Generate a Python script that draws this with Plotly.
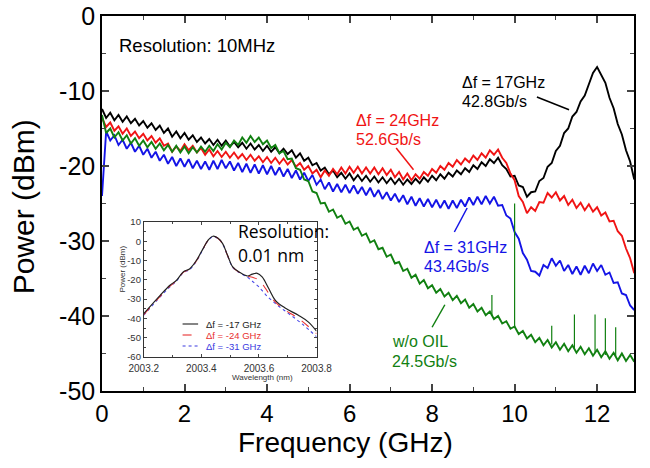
import plotly.graph_objects as go

# ---------------- main spectra (Frequency in GHz, Power in dBm) ----------------
freq = [round(i * 0.1, 1) for i in range(130)]

black_17 = [
    -12.4, -13.6, -12.9, -13.9, -13.2, -14.1, -13.4, -14.3, -13.7, -14.6,
    -14.0, -14.9, -14.3, -15.2, -14.6, -15.6, -15.0, -16.1, -15.4, -16.3,
    -15.6, -16.5, -15.9, -16.8, -16.2, -17.0, -16.4, -17.2, -16.5, -17.3,
    -16.6, -17.4, -16.8, -17.5, -16.9, -17.7, -17.0, -17.8, -17.2, -18.0,
    -17.3, -18.1, -17.5, -18.3, -17.7, -18.4, -17.9, -18.9, -18.3, -19.3,
    -18.9, -19.9, -19.6, -20.6, -20.2, -21.1, -20.6, -21.5, -20.9, -21.7,
    -21.0, -21.9, -21.2, -22.0, -21.3, -22.1, -21.4, -22.2, -21.5, -22.3,
    -21.6, -22.4, -21.7, -22.5, -21.8, -22.4, -21.7, -22.3, -21.5, -22.1,
    -21.3, -21.9, -21.1, -21.7, -20.9, -21.4, -20.6, -21.1, -20.3, -20.8,
    -19.9, -20.4, -19.5, -20.0, -19.1, -19.6, -18.9, -19.9, -20.4, -21.4,
    -21.3, -22.6, -22.8, -24.1, -23.5, -23.4, -22.0, -21.6, -20.1, -19.6,
    -18.0, -17.3, -15.6, -15.0, -13.4, -12.8, -11.4, -10.6, -9.1, -7.6,
    -6.8, -7.9, -8.9, -10.9, -12.3, -14.4, -15.8, -17.9, -19.4, -21.8,
]

red_24 = [
    -13.6, -14.8, -14.2, -15.3, -14.7, -15.7, -15.0, -16.0, -15.4, -16.3,
    -15.7, -16.6, -16.0, -16.9, -16.3, -17.3, -17.0, -18.1, -17.4, -18.0,
    -17.1, -17.9, -17.3, -18.2, -17.6, -18.5, -17.8, -18.7, -18.0, -18.8,
    -18.1, -18.9, -18.2, -19.0, -18.4, -19.2, -18.5, -19.3, -18.7, -19.5,
    -18.8, -19.6, -18.9, -19.7, -19.0, -19.8, -19.2, -20.1, -19.6, -20.5,
    -20.0, -21.0, -20.5, -21.5, -20.6, -21.3, -20.4, -21.1, -20.2, -21.0,
    -20.1, -20.9, -20.1, -21.0, -20.2, -21.0, -20.2, -21.1, -20.3, -21.2,
    -20.5, -21.5, -20.8, -21.8, -21.0, -21.9, -21.1, -21.7, -20.8, -21.3,
    -20.4, -20.9, -20.0, -20.5, -19.6, -20.1, -19.2, -19.8, -19.0, -19.5,
    -18.6, -19.2, -18.3, -18.9, -17.9, -18.5, -17.8, -18.9, -19.6, -21.0,
    -21.9, -24.0, -24.8, -26.3, -25.5, -26.0, -24.8, -24.9, -23.6, -24.2,
    -23.5, -24.6, -24.0, -25.2, -24.5, -25.6, -24.9, -25.9, -25.1, -26.1,
    -25.5, -26.6, -26.2, -27.4, -27.3, -28.7, -29.3, -31.0, -32.3, -34.3,
]

blue_31 = [
    -24.0, -15.4, -16.6, -15.9, -17.2, -16.5, -17.7, -16.9, -18.1, -17.3,
    -18.5, -17.7, -18.9, -18.1, -19.3, -18.5, -19.7, -18.8, -20.0, -19.0,
    -20.1, -19.1, -20.3, -19.3, -20.4, -19.4, -20.5, -19.3, -20.4, -19.2,
    -20.3, -19.4, -20.6, -19.6, -20.8, -19.7, -20.9, -19.8, -21.0, -19.9,
    -21.1, -20.0, -21.2, -20.2, -21.4, -20.4, -21.6, -20.6, -21.8, -20.9,
    -22.0, -21.2, -22.5, -21.8, -23.1, -22.2, -23.4, -22.4, -23.5, -22.5,
    -23.6, -22.6, -23.7, -22.8, -23.9, -22.9, -24.1, -23.2, -24.4, -23.5,
    -24.6, -23.7, -24.8, -23.9, -25.1, -24.1, -25.3, -24.3, -25.4, -24.4,
    -25.5, -24.5, -25.6, -24.6, -25.7, -24.6, -25.6, -24.5, -25.4, -24.2,
    -25.2, -24.1, -25.1, -24.0, -25.0, -24.1, -25.3, -25.2, -26.6, -27.0,
    -28.8, -29.7, -31.6, -32.5, -34.0, -34.1, -34.6, -33.2, -33.6, -32.3,
    -33.3, -32.6, -34.0, -33.2, -34.4, -33.4, -34.5, -33.3, -34.3, -33.0,
    -34.0, -33.2, -34.5, -34.2, -35.6, -35.5, -37.0, -37.2, -38.6, -39.2,
]

green_nooil = [
    -13.2, -15.6, -15.0, -16.2, -15.5, -16.6, -15.9, -17.0, -16.3, -17.3,
    -16.6, -17.5, -16.8, -17.7, -17.0, -17.9, -17.2, -18.1, -17.3, -18.2,
    -17.4, -18.3, -17.5, -18.2, -17.4, -18.1, -17.3, -18.0, -17.1, -17.8,
    -16.9, -17.5, -16.6, -17.2, -16.2, -16.9, -16.0, -16.8, -16.2, -17.1,
    -16.6, -17.6, -17.2, -18.3, -18.0, -19.1, -19.0, -20.3, -20.5, -21.8,
    -22.0, -23.4, -23.6, -25.0, -24.9, -26.1, -25.8, -26.9, -26.6, -27.7,
    -27.4, -28.5, -28.2, -29.3, -29.0, -30.2, -29.9, -31.1, -30.9, -32.1,
    -31.8, -33.0, -32.8, -34.0, -33.7, -34.9, -34.5, -35.7, -35.2, -36.3,
    -35.9, -36.9, -36.4, -37.4, -36.9, -37.9, -37.3, -38.3, -37.8, -38.9,
    -38.4, -39.4, -38.9, -39.9, -39.4, -40.4, -40.0, -41.0, -40.7, -41.7,
    -41.4, -42.4, -42.0, -43.0, -42.5, -43.5, -42.9, -43.9, -43.2, -44.2,
    -43.5, -44.5, -43.7, -44.7, -43.9, -44.9, -44.1, -45.1, -44.3, -45.3,
    -44.5, -45.5, -44.7, -45.7, -44.9, -45.9, -45.0, -46.0, -45.2, -46.1,
]

# narrow spurious lines on the w/o OIL trace
spike_freq = [9.45, 10.0, 10.9, 11.45, 11.95, 12.2, 12.45]
spike_base = [-40.0, -41.6, -43.8, -44.4, -44.9, -45.2, -45.4]
spike_top = [-37.2, -25.0, -41.3, -39.8, -39.8, -40.3, -41.5]

y_ticks = [0, -10, -20, -30, -40, -50]
y_ticklabels = ["0", "-10", "-20", "-30", "-40", "-50"]

# ---------------- inset: optical spectra ----------------
wl_black = [2003.2, 2003.257, 2003.291, 2003.314, 2003.337, 2003.36, 2003.383, 2003.406,
            2003.423, 2003.44, 2003.457, 2003.474, 2003.491, 2003.509, 2003.531, 2003.56,
            2003.577, 2003.594, 2003.611, 2003.634, 2003.657, 2003.691, 2003.737, 2003.771, 2003.8]
opt_black = [-37.5, -28.0, -22.8, -20.2, -15.9, -14.2, -9.9, -3.8,
             0.5, 2.6, 1.7, -1.2, -7.3, -13.3, -15.9, -18.0,
             -17.0, -16.6, -18.5, -24.5, -30.6, -34.6, -38.4, -41.8, -46.6]
wl_red = [2003.2, 2003.257, 2003.291, 2003.314, 2003.337, 2003.36, 2003.383, 2003.406,
          2003.423, 2003.44, 2003.457, 2003.474, 2003.491, 2003.509, 2003.531, 2003.56,
          2003.577, 2003.6, 2003.623, 2003.646, 2003.68, 2003.737, 2003.8]
opt_red = [-38.0, -28.5, -23.3, -20.4, -16.1, -14.4, -10.1, -3.9,
           0.4, 2.5, 1.6, -1.3, -7.4, -13.4, -16.0, -18.1,
           -18.6, -20.2, -24.5, -29.7, -34.6, -40.0, -47.9]
wl_blue = [2003.2, 2003.257, 2003.291, 2003.314, 2003.337, 2003.36, 2003.383, 2003.406,
           2003.423, 2003.44, 2003.457, 2003.474, 2003.491, 2003.509, 2003.531, 2003.56,
           2003.577, 2003.6, 2003.623, 2003.657, 2003.703, 2003.749, 2003.8]
opt_blue = [-38.3, -28.8, -23.6, -20.6, -16.3, -14.6, -10.3, -4.1,
            0.3, 2.4, 1.5, -1.4, -7.5, -13.5, -16.2, -18.6,
            -20.7, -23.7, -27.6, -32.3, -37.5, -42.7, -49.5]

inset_xticks = [2003.2, 2003.4, 2003.6, 2003.8]
inset_yticks = [10, 0, -10, -20, -30, -40, -50, -60]
inset_yticklabels = ["10", "0", "-10", "-20", "-30", "-40", "-50", "-60"]
legend_labels = ["Δf = -17 GHz", "Δf = -24 GHz", "Δf = -31 GHz"]

BLACK = "#000000"
RED = "#f01414"
BLUE = "#1414e6"
GREEN = "#118011"

# plot-area geometry in pixels (for placing text in paper coordinates)
L, R, T, B = 102, 650, 16, 391


def px(xp):
    return (xp - L) / (R - L)


def py(yp):
    return (B - yp) / (B - T)


fig = go.Figure()

for ys, col in [(black_17, BLACK), (red_24, RED), (blue_31, BLUE), (green_nooil, GREEN)]:
    fig.add_trace(go.Scatter(x=freq, y=ys, mode="lines", line=dict(color=col, width=1.9),
                             showlegend=False, xaxis="x", yaxis="y"))

sx, sy = [], []
for f, b0, t0 in zip(spike_freq, spike_base, spike_top):
    sx += [f, f, None]
    sy += [b0, t0, None]
fig.add_trace(go.Scatter(x=sx, y=sy, mode="lines", line=dict(color=GREEN, width=1.2),
                         showlegend=False, xaxis="x", yaxis="y"))

fig.add_trace(go.Scatter(x=wl_blue, y=opt_blue, mode="lines", line=dict(color="#4a4ae8", width=1.1, dash="dot"),
                         line_shape="spline", showlegend=False, xaxis="x2", yaxis="y2"))
fig.add_trace(go.Scatter(x=wl_red, y=opt_red, mode="lines", line=dict(color="#e83030", width=1.1, dash="dash"),
                         line_shape="spline", showlegend=False, xaxis="x2", yaxis="y2"))
fig.add_trace(go.Scatter(x=wl_black, y=opt_black, mode="lines", line=dict(color="#222222", width=1.2),
                         line_shape="spline", showlegend=False, xaxis="x2", yaxis="y2"))

FONT = "Liberation Sans, Arial, sans-serif"

fig.update_layout(
    width=650, height=468,
    margin=dict(l=L, r=650 - R, t=T, b=468 - B, pad=0),
    paper_bgcolor="white", plot_bgcolor="white",
    font=dict(family=FONT, color="black"),
    xaxis=dict(range=[0, 12.894], tickvals=[0, 2, 4, 6, 8, 10, 12], ticks="inside", ticklen=7,
               tickwidth=1.5, showline=True, linewidth=1.5, linecolor="black", mirror="allticks",
               showgrid=False, zeroline=False, tickfont=dict(size=24, family=FONT),
               minor=dict(dtick=1, ticks="inside", ticklen=4, tickwidth=1.2, showgrid=False)),
    yaxis=dict(range=[-50, 0], tickvals=y_ticks, ticktext=y_ticklabels, ticks="inside", ticklen=7,
               tickwidth=1.5, showline=True, linewidth=1.5, linecolor="black", mirror="allticks",
               showgrid=False, zeroline=False, tickfont=dict(size=25, family=FONT),
               minor=dict(dtick=5, ticks="inside", ticklen=4, tickwidth=1.2, showgrid=False)),
    xaxis2=dict(domain=[px(145), px(323)], anchor="y2", range=[2003.2, 2003.8],
                tickvals=inset_xticks, ticktext=[f"{v:.1f}" for v in inset_xticks],
                ticks="inside", ticklen=3, tickwidth=0.8, showline=True, linewidth=0.8, linecolor="#333",
                mirror="allticks", showgrid=False, zeroline=False, ticklabelstandoff=2,
                tickfont=dict(size=10, color="#333", family=FONT),
                minor=dict(dtick=0.1, ticks="inside", ticklen=2, tickwidth=0.8, showgrid=False)),
    yaxis2=dict(domain=[py(357), py(222)], anchor="x2", range=[-60, 10],
                tickvals=inset_yticks, ticktext=inset_yticklabels,
                ticks="inside", ticklen=3, tickwidth=0.8, showline=True, linewidth=0.8, linecolor="#333",
                mirror="allticks", showgrid=False, zeroline=False,
                tickfont=dict(size=9.5, color="#333", family=FONT),
                minor=dict(dtick=5, ticks="inside", ticklen=2, tickwidth=0.8, showgrid=False)),
)

ann = []
# axis titles
ann.append(dict(text="Power (dBm)", x=px(21), y=py(207), xref="paper", yref="paper", textangle=-90,
                showarrow=False, font=dict(size=30, family=FONT), xanchor="center", yanchor="middle"))
ann.append(dict(text="Frequency (GHz)", x=px(353), y=py(442), xref="paper", yref="paper",
                showarrow=False, font=dict(size=28, family=FONT), xanchor="center", yanchor="middle"))
# main labels
main_labels = [
    ("Resolution: 10MHz", 117, 45, BLACK, 18.5),
    ("Δf = 17GHz", 471, 82, BLACK, 16),
    ("42.8Gb/s", 471, 101, BLACK, 16),
    ("Δf = 24GHz", 362, 120, RED, 16),
    ("52.6Gb/s", 362, 139, RED, 16),
    ("Δf = 31GHz", 432, 247, BLUE, 16),
    ("43.4Gb/s", 432, 266, BLUE, 16),
    ("w/o OIL", 399, 341, GREEN, 16),
    ("24.5Gb/s", 399, 361, GREEN, 16),
]
for t, x0, y0, c, s in main_labels:
    ann.append(dict(text=t, x=px(x0), y=py(y0), xref="paper", yref="paper", showarrow=False,
                    xanchor="left", yanchor="middle", font=dict(size=s, color=c, family=FONT)))
# inset texts
ann.append(dict(text="Resolution:", x=px(240), y=py(231), xref="paper", yref="paper", showarrow=False,
                xanchor="left", yanchor="middle", font=dict(size=17.5, family="Open Sans, sans-serif")))
ann.append(dict(text="0.01 nm", x=px(240), y=py(255), xref="paper", yref="paper", showarrow=False,
                xanchor="left", yanchor="middle", font=dict(size=17.5, family="Open Sans, sans-serif")))
ann.append(dict(text="Power (dBm)", x=px(116), y=py(295), xref="paper", yref="paper", textangle=-90,
                showarrow=False, font=dict(size=8, color="#333", family=FONT)))
ann.append(dict(text="Wavelength (nm)", x=px(234), y=py(384), xref="paper", yref="paper",
                showarrow=False, font=dict(size=8, color="#333", family=FONT)))
leg_cols = ["#222222", "#e83030", "#3a3ae0"]
leg_dash = ["solid", "dash", "dot"]
leg_y = [324, 335, 346]
shapes = []
for lab, c, d, yy in zip(legend_labels, leg_cols, leg_dash, leg_y):
    ann.append(dict(text=lab, x=px(207), y=py(yy), xref="paper", yref="paper", showarrow=False,
                    xanchor="left", yanchor="middle", font=dict(size=9.5, color=c, family=FONT)))
    shapes.append(dict(type="line", xref="paper", yref="paper", x0=px(185), x1=px(201), y0=py(yy), y1=py(yy),
                       line=dict(color=c, width=1.1, dash=d)))

# pointer lines (data coordinates)
pointers = [
    (10.54, -10.8, 11.32, -12.5, BLACK),
    (7.13, -17.6, 7.55, -20.5, RED),
    (8.54, -28.8, 8.85, -25.6, BLUE),
    (8.0, -41.5, 8.31, -38.5, GREEN),
]
for x0, y0, x1, y1, c in pointers:
    shapes.append(dict(type="line", xref="x", yref="y", x0=x0, y0=y0, x1=x1, y1=y1,
                       line=dict(color=c, width=1.5)))

fig.update_layout(annotations=ann, shapes=shapes)
fig.write_html("out.html")
